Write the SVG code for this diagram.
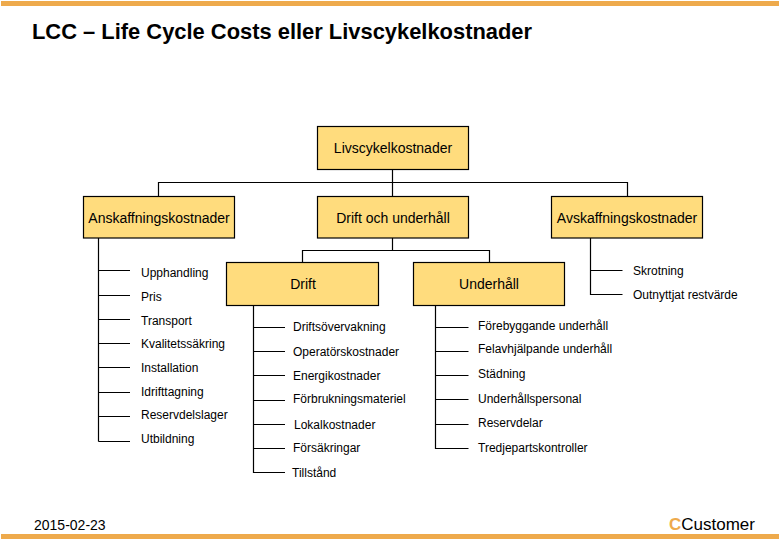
<svg xmlns="http://www.w3.org/2000/svg" width="780" height="540" viewBox="0 0 780 540">
<style>
text{font-family:"Liberation Sans",Arial,sans-serif;fill:#000}
.box{fill:#ffdc7d;stroke:#000;stroke-width:1.2}
.b{font-size:14px;text-anchor:middle}
.l{font-size:12px}
.c{fill:none;stroke:#000;stroke-width:1.2}
.bar{fill:#eeaa4c}
</style>
<rect width="780" height="540" fill="#fff"/>
<rect class="bar" x="1" y="1" width="778" height="5"/>
<rect class="bar" x="1" y="534" width="778" height="5"/>
<text x="32" y="39" font-size="21.9" font-weight="700">LCC – Life Cycle Costs eller Livscykelkostnader</text>
<g id="connectors">
<path class="c" d="M392.5 169V196.5M158.5 196.5V182.5H627.5V196.5"/>
<path class="c" d="M392.5 238V250.5M302.5 262V250.5H489.5V262"/>
<path class="c" d="M98.5 238V441.5M98.5 270.5H130M98.5 295.5H130M98.5 319.5H130M98.5 343.5H130M98.5 367.5H130M98.5 392.5H130M98.5 416.5H130M98.5 441.5H130"/>
<path class="c" d="M253.5 305V472.5H285M253.5 327.5H285M253.5 351.5H285M253.5 375.5H285M253.5 400.5H285M253.5 424.5H285M253.5 448.5H285"/>
<path class="c" d="M435.5 305V448.5H468.5M435.5 327.5H468.5M435.5 351.5H468.5M435.5 375.5H468.5M435.5 399.5H468.5M435.5 424.5H468.5"/>
<path class="c" d="M590.5 238V294.5H622.5M590.5 270.5H622.5"/>
</g>
<g id="n-livscykel"><rect class="box" x="317.5" y="126.5" width="151" height="43"/><text class="b" x="393" y="153">Livscykelkostnader</text></g>
<g id="n-anskaffning"><rect class="box" x="83.5" y="196.5" width="151" height="41.5"/><text class="b" x="159" y="223">Anskaffningskostnader</text></g>
<g id="n-drift-underhall"><rect class="box" x="317.5" y="196.5" width="151" height="41.5"/><text class="b" x="393" y="223">Drift och underhåll</text></g>
<g id="n-avskaffning"><rect class="box" x="551.5" y="196.5" width="151" height="41.5"/><text class="b" x="627" y="223">Avskaffningskostnader</text></g>
<g id="n-drift"><rect class="box" x="226.5" y="262.5" width="152" height="43"/><text class="b" x="303" y="289">Drift</text></g>
<g id="n-underhall"><rect class="box" x="413.5" y="262.5" width="151" height="43"/><text class="b" x="489" y="289">Underhåll</text></g>
<g id="n-upphandling"><text class="l" x="141" y="277">Upphandling</text></g>
<g id="n-pris"><text class="l" x="141" y="301">Pris</text></g>
<g id="n-transport"><text class="l" x="141" y="325">Transport</text></g>
<g id="n-kvalitet"><text class="l" x="141" y="348">Kvalitetssäkring</text></g>
<g id="n-installation"><text class="l" x="141" y="372">Installation</text></g>
<g id="n-idrifttagning"><text class="l" x="141" y="396">Idrifttagning</text></g>
<g id="n-reservdelslager"><text class="l" x="141" y="419">Reservdelslager</text></g>
<g id="n-utbildning"><text class="l" x="141" y="443">Utbildning</text></g>
<g id="n-driftsovervakning"><text class="l" x="293" y="331">Driftsövervakning</text></g>
<g id="n-operator"><text class="l" x="293" y="356">Operatörskostnader</text></g>
<g id="n-energi"><text class="l" x="293" y="380">Energikostnader</text></g>
<g id="n-forbrukning"><text class="l" x="293" y="403">Förbrukningsmateriel</text></g>
<g id="n-lokal"><text class="l" x="294" y="429">Lokalkostnader</text></g>
<g id="n-forsakringar"><text class="l" x="293" y="452">Försäkringar</text></g>
<g id="n-tillstand"><text class="l" x="292" y="477">Tillstånd</text></g>
<g id="n-forebyggande"><text class="l" x="478" y="330">Förebyggande underhåll</text></g>
<g id="n-felavhjalpande"><text class="l" x="478" y="353">Felavhjälpande underhåll</text></g>
<g id="n-stadning"><text class="l" x="478" y="378">Städning</text></g>
<g id="n-underhallspersonal"><text class="l" x="478" y="403">Underhållspersonal</text></g>
<g id="n-reservdelar"><text class="l" x="478" y="427">Reservdelar</text></g>
<g id="n-tredjepart"><text class="l" x="478" y="452">Tredjepartskontroller</text></g>
<g id="n-skrotning"><text class="l" x="633" y="275">Skrotning</text></g>
<g id="n-outnyttjat"><text class="l" x="633" y="299">Outnyttjat restvärde</text></g>
<text x="34" y="530" font-size="14">2015-02-23</text>
<text x="669" y="530" font-size="17"><tspan fill="#eeaa4c" font-weight="700">C</tspan>Customer</text>
</svg>
